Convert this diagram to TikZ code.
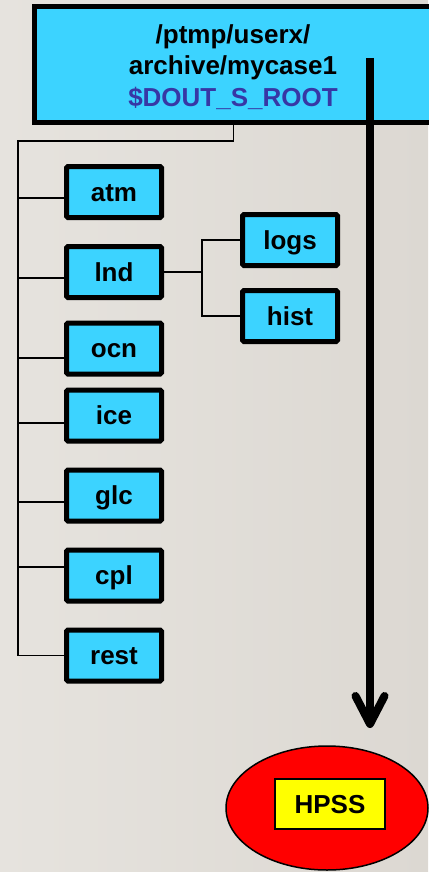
\documentclass[tikz,border=0pt]{standalone}
\usepackage{fontspec}
\setmainfont{Liberation Sans}
\usetikzlibrary{shapes.geometric,calc}
\definecolor{bgL}{RGB}{230,227,222}
\definecolor{bgR}{RGB}{220,216,210}
\definecolor{boxcyan}{RGB}{60,211,255}
\definecolor{rootblue}{RGB}{55,55,165}
\definecolor{hpssred}{RGB}{255,0,0}
\definecolor{hpssyellow}{RGB}{255,255,0}
\tikzset{
  dirbox/.style={draw=black, line width=5pt, fill=boxcyan, rounded corners=1.5pt,
    minimum width=95pt, minimum height=51pt, inner sep=0pt,
    font=\bfseries\fontsize{26}{31}\selectfont, text height=18.5pt, text depth=0pt},
  conn/.style={draw=black, line width=1.5pt},
  bigarrow/.style={draw=black, line width=8pt, line join=round},
}
\begin{document}
\begin{tikzpicture}[x=1pt,y=-1pt]
\useasboundingbox (0,0) rectangle (428,872);
\shade[left color=bgL, right color=bgR] (0,0) rectangle (428,872);

% top box
\node[draw=black, line width=5pt, fill=boxcyan, minimum width=397.5pt, minimum height=116pt, inner sep=0pt] (top) at (233.25,64.5) {};
\node[anchor=north, align=center, inner sep=0pt, font=\bfseries\fontsize{26}{31.5}\selectfont] (toptext) at (233,24)
  {/ptmp/userx/\\archive/mycase1\\\textcolor{rootblue}{\$DOUT\_S\_ROOT}};

% directory boxes
\node[dirbox] (atm)  at (114,192)   {atm};
\node[dirbox] (lnd)  at (114,272)   {lnd};
\node[dirbox] (ocn)  at (114,348.5) {ocn};
\node[dirbox] (ice)  at (114,415.5) {ice};
\node[dirbox] (glc)  at (114,495.5) {glc};
\node[dirbox] (cpl)  at (114,575.5) {cpl};
\node[dirbox] (rest) at (114,655.5) {rest};
\node[dirbox] (logs) at (290,240)   {logs};
\node[dirbox] (hist) at (290,316)   {hist};

% tree connectors
\coordinate (trunkend) at ($(rest.west)+(-46,0)$);
\draw[conn] (top.south) -- ++(0,16) -| (trunkend) -- (rest.west);
\draw[conn] ($(atm.west)+(0,6)$) -- ++(-46,0);
\draw[conn] ($(lnd.west)+(0,6)$) -- ++(-46,0);
\draw[conn] ($(ocn.west)+(0,9.5)$) -- ++(-46,0);
\draw[conn] ($(ice.west)+(0,7.5)$) -- ++(-46,0);
\draw[conn] ($(glc.west)+(0,6.5)$) -- ++(-46,0);
\draw[conn] ($(cpl.west)+(0,-8.5)$) -- ++(-46,0);

\coordinate (lndj) at ($(lnd.east)+(38,0)$);
\draw[conn] (lnd.east) -- (lndj);
\draw[conn] (logs.west) -| (lndj) |- (hist.west);

% HPSS
\node[ellipse, draw=black, line width=1.5pt, fill=hpssred, minimum width=202pt, minimum height=124pt, inner sep=0pt] (hpss) at (327,808) {};
\node[draw=black, line width=2pt, fill=hpssyellow, minimum width=110pt, minimum height=50pt, inner sep=0pt,
  font=\bfseries\fontsize{26}{31}\selectfont, text height=18.5pt, text depth=0pt] (hpsslabel) at (330,804) {HPSS};

% big arrow
\coordinate (astart) at (370,58);
\coordinate (aend) at (370,724);
\draw[bigarrow, line cap=butt] (astart) -- (aend);
\draw[bigarrow, line cap=round] ($(aend)+(-14.5,-28)$) -- (aend) -- ($(aend)+(14.5,-28)$);
\end{tikzpicture}
\end{document}
